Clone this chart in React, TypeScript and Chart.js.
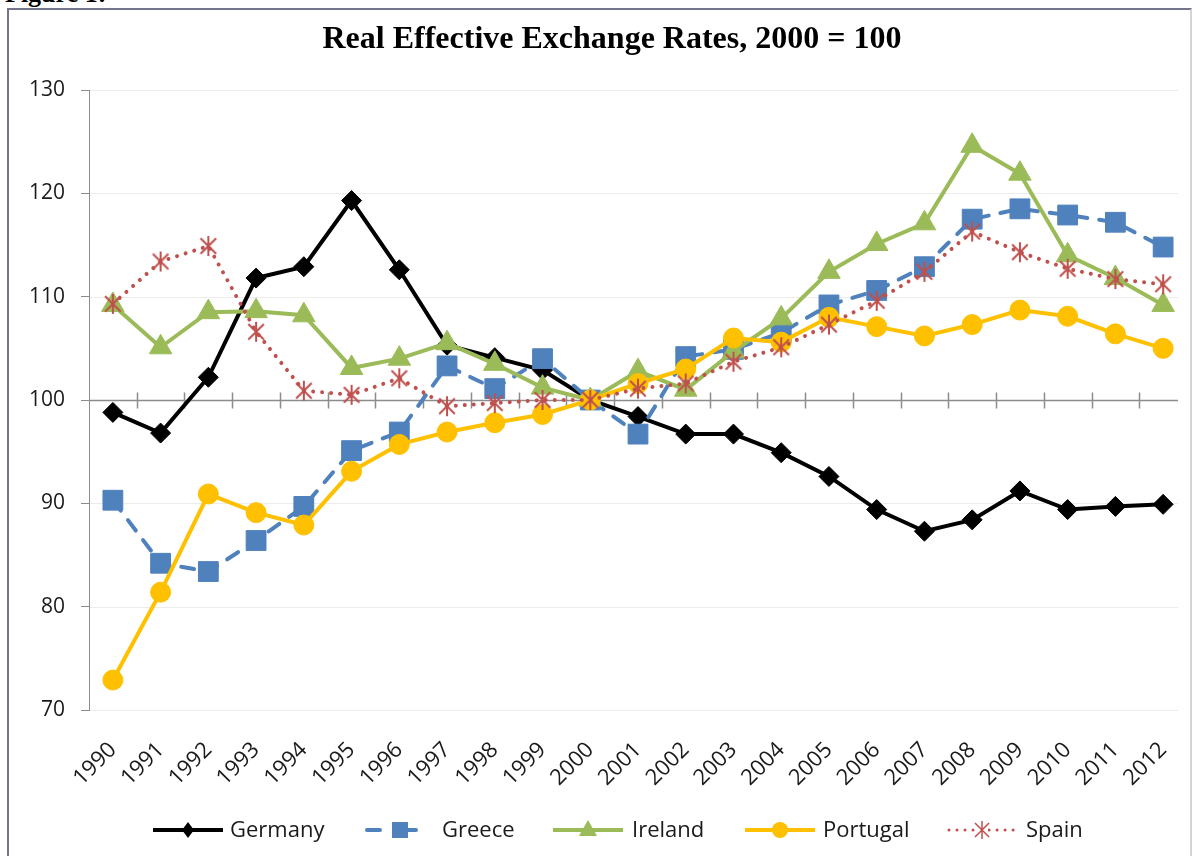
import React, { useEffect, useRef } from 'react';
import { Chart, registerables } from 'chart.js';

Chart.register(...registerables);

const TITLE = 'Real Effective Exchange Rates, 2000 = 100';
const years = ['1990','1991','1992','1993','1994','1995','1996','1997','1998','1999','2000','2001','2002','2003','2004','2005','2006','2007','2008','2009','2010','2011','2012'];
const germany = [98.8, 96.8, 102.2, 111.8, 112.9, 119.3, 112.6, 105.3, 104.1, 102.9, 100, 98.4, 96.7, 96.7, 94.9, 92.6, 89.4, 87.3, 88.4, 91.2, 89.4, 89.7, 89.9];
const greece = [90.3, 84.2, 83.4, 86.4, 89.7, 95.1, 96.9, 103.3, 101.1, 104.0, 100, 96.7, 104.2, 104.9, 106.5, 109.2, 110.6, 112.9, 117.5, 118.5, 117.9, 117.2, 114.8];
const ireland = [109.2, 105.1, 108.5, 108.6, 108.2, 103.1, 104.0, 105.5, 103.5, 101.2, 100, 102.8, 101.0, 104.7, 107.9, 112.4, 115.1, 117.1, 124.6, 121.9, 114.0, 111.8, 109.2];
const portugal = [72.9, 81.4, 90.9, 89.1, 87.9, 93.1, 95.7, 96.9, 97.8, 98.6, 100, 101.6, 103.0, 106.0, 105.6, 108.0, 107.1, 106.2, 107.3, 108.7, 108.1, 106.4, 105.0];
const spain = [109.3, 113.4, 114.9, 106.6, 100.9, 100.5, 102.1, 99.4, 99.7, 100.0, 100, 101.1, 101.6, 103.7, 105.1, 107.3, 109.6, 112.4, 116.3, 114.3, 112.7, 111.7, 111.2];
const seriesNames = ['Germany', 'Greece', 'Ireland', 'Portugal', 'Spain'];
const Y_MIN = 70;
const Y_MAX = 130;
const Y_STEP = 10;
const BASE = 100;

const C_GER = '#000000';
const C_GRE = '#4F81BD';
const C_IRE = '#9BBB59';
const C_POR = '#FFC000';
const C_SPA = '#C0504D';

const AX_FONT = 'Open Sans';
const GRID_INSET_RIGHT = 9;

function drawStar(g: CanvasRenderingContext2D, cx: number, cy: number, r: number, color: string, lw: number) {
  g.save();
  g.strokeStyle = color;
  g.lineWidth = lw;
  g.lineCap = 'butt';
  g.beginPath();
  g.moveTo(cx, cy - r);
  g.lineTo(cx, cy + r);
  const d = r * 0.78;
  g.moveTo(cx - d, cy - d);
  g.lineTo(cx + d, cy + d);
  g.moveTo(cx + d, cy - d);
  g.lineTo(cx - d, cy + d);
  g.stroke();
  g.restore();
}

function makeStarCanvas(size: number, color: string, lw: number) {
  const c = document.createElement('canvas');
  c.width = size;
  c.height = size;
  const g = c.getContext('2d')!;
  drawStar(g, size / 2, size / 2, size / 2 - 1, color, lw);
  return c;
}

const titlePlugin = {
  id: 'customTitle',
  afterDraw(chart: any) {
    const ctx = chart.ctx;
    ctx.save();
    ctx.fillStyle = '#000';
    ctx.font = 'bold 32px "Liberation Serif"';
    ctx.textAlign = 'center';
    ctx.textBaseline = 'middle';
    ctx.fillText(TITLE, 612, 40);
    ctx.restore();
  },
};

const baseAxisPlugin = {
  id: 'baseAxis',
  beforeDatasetsDraw(chart: any) {
    const ctx = chart.ctx;
    const xs = chart.scales.x;
    const ys = chart.scales.y;
    const { left, right } = chart.chartArea;
    const gridRight = right - GRID_INSET_RIGHT;
    ctx.save();
    // horizontal gridlines
    ctx.strokeStyle = '#ececec';
    ctx.lineWidth = 1;
    ctx.beginPath();
    for (let v = Y_MIN; v <= Y_MAX; v += Y_STEP) {
      if (v === BASE) continue;
      const gy = Math.round(ys.getPixelForValue(v)) + 0.5;
      ctx.moveTo(left + 1, gy);
      ctx.lineTo(gridRight, gy);
    }
    ctx.stroke();
    // category axis crossing at the base value
    const y = Math.round(ys.getPixelForValue(BASE)) + 0.5;
    ctx.strokeStyle = '#8c8c8c';
    ctx.lineWidth = 1.5;
    ctx.beginPath();
    ctx.moveTo(left, y);
    ctx.lineTo(gridRight, y);
    for (let i = 1; i < years.length; i++) {
      const x = Math.round((xs.getPixelForValue(i - 1) + xs.getPixelForValue(i)) / 2) + 0.5;
      ctx.moveTo(x, y - 8);
      ctx.lineTo(x, y + 8);
    }
    ctx.stroke();
    ctx.restore();
  },
};

const legendPlugin = {
  id: 'customLegend',
  afterDraw(chart: any) {
    const ctx = chart.ctx;
    const y = 830;
    const starts = [153, 350, 553, 745, 947];
    const textOffsets = [77, 92, 79, 78, 79];
    ctx.save();
    ctx.font = `22px "${AX_FONT}"`;
    ctx.textBaseline = 'middle';
    ctx.textAlign = 'left';
    seriesNames.forEach((name, i) => {
      const s = starts[i];
      const m = s + 35;
      ctx.save();
      if (i === 0) {
        ctx.strokeStyle = C_GER; ctx.lineWidth = 4;
        ctx.beginPath(); ctx.moveTo(s, y); ctx.lineTo(s + 70, y); ctx.stroke();
        ctx.fillStyle = C_GER;
        ctx.beginPath(); ctx.moveTo(m, y - 8); ctx.lineTo(m + 6, y); ctx.lineTo(m, y + 8); ctx.lineTo(m - 6, y); ctx.closePath(); ctx.fill();
      } else if (i === 1) {
        ctx.strokeStyle = C_GRE; ctx.lineWidth = 4; ctx.lineCap = 'round';
        ctx.beginPath(); ctx.moveTo(s + 17, y); ctx.lineTo(s + 30, y); ctx.moveTo(s + 58, y); ctx.lineTo(s + 66, y); ctx.stroke();
        ctx.fillStyle = C_GRE;
        ctx.fillRect(s + 42, y - 8, 16, 16);
      } else if (i === 2) {
        ctx.strokeStyle = C_IRE; ctx.lineWidth = 4;
        ctx.beginPath(); ctx.moveTo(s, y); ctx.lineTo(s + 70, y); ctx.stroke();
        ctx.fillStyle = C_IRE;
        ctx.beginPath(); ctx.moveTo(m, y - 10); ctx.lineTo(m + 9, y + 6); ctx.lineTo(m - 9, y + 6); ctx.closePath(); ctx.fill();
      } else if (i === 3) {
        ctx.strokeStyle = C_POR; ctx.lineWidth = 4;
        ctx.beginPath(); ctx.moveTo(s, y); ctx.lineTo(s + 70, y); ctx.stroke();
        ctx.fillStyle = C_POR;
        ctx.beginPath(); ctx.arc(m, y, 8, 0, Math.PI * 2); ctx.fill();
      } else {
        ctx.strokeStyle = C_SPA; ctx.lineWidth = 3; ctx.lineCap = 'round';
        ctx.setLineDash([0.01, 8]);
        ctx.beginPath(); ctx.moveTo(s + 2, y); ctx.lineTo(s + 70, y); ctx.stroke();
        ctx.setLineDash([]);
        ctx.fillStyle = '#fff';
        ctx.fillRect(m - 6, y - 9, 12, 18);
        drawStar(ctx, m, y, 9, C_SPA, 1.5);
      }
      ctx.restore();
      ctx.fillStyle = '#1a1a1a';
      ctx.fillText(name, s + textOffsets[i], y + 1);
    });
    ctx.restore();
  },
};

export default function App() {
  const ref = useRef<HTMLCanvasElement | null>(null);
  useEffect(() => {
    if (!ref.current) return;
    const star = makeStarCanvas(22, C_SPA, 2);
    const chart = new Chart(ref.current, {
      type: 'line',
      data: {
        labels: years,
        datasets: [
          { label: seriesNames[0], data: germany, borderColor: C_GER, backgroundColor: C_GER, borderWidth: 4, pointStyle: 'rectRot', pointRadius: 10, pointBorderWidth: 1, pointBackgroundColor: C_GER, pointBorderColor: C_GER, tension: 0, order: 5 },
          { label: seriesNames[1], data: greece, borderColor: C_GRE, backgroundColor: C_GRE, borderWidth: 4, borderDash: [13, 12], borderCapStyle: 'round', pointStyle: 'rect', pointRadius: 14, pointBorderWidth: 1, pointBackgroundColor: C_GRE, pointBorderColor: C_GRE, tension: 0, order: 4 },
          { label: seriesNames[2], data: ireland, borderColor: C_IRE, backgroundColor: C_IRE, borderWidth: 4, pointStyle: 'triangle', pointRadius: 13, pointBorderWidth: 1, pointBackgroundColor: C_IRE, pointBorderColor: C_IRE, tension: 0, order: 3 },
          { label: seriesNames[3], data: portugal, borderColor: C_POR, backgroundColor: C_POR, borderWidth: 4, pointStyle: 'circle', pointRadius: 10, pointBorderWidth: 1, pointBackgroundColor: C_POR, pointBorderColor: C_POR, tension: 0, order: 2 },
          { label: seriesNames[4], data: spain, borderColor: C_SPA, backgroundColor: C_SPA, borderWidth: 4, borderDash: [0.01, 9], borderCapStyle: 'round', pointStyle: star as any, pointRadius: 11, tension: 0, order: 1 },
        ],
      },
      options: {
        responsive: false,
        animation: false,
        layout: { autoPadding: false, padding: { top: 90, left: 0, right: 5, bottom: 0 } },
        plugins: {
          legend: { display: false },
          title: { display: false },
          tooltip: { enabled: false },
        },
        scales: {
          x: {
            type: 'category',
            offset: true,
            grid: { display: false, drawTicks: false },
            border: { display: false },
            ticks: { autoSkip: false, minRotation: 45, maxRotation: 45, padding: 27, color: '#1a1a1a', font: { family: AX_FONT, size: 22 } },
            afterFit: (s: any) => { s.height = 146; s.paddingLeft = 0; s.paddingRight = 0; },
          },
          y: {
            min: Y_MIN,
            max: Y_MAX,
            ticks: { stepSize: Y_STEP, padding: 16, color: '#1a1a1a', font: { family: AX_FONT, size: 21 } },
            grid: { drawOnChartArea: false, tickColor: '#8c8c8c', tickLength: 8, lineWidth: 1 },
            border: { color: '#8c8c8c', width: 1 },
            afterFit: (s: any) => { s.width = 89; s.paddingTop = 0; s.paddingBottom = 0; },
          },
        },
      } as any,
      plugins: [baseAxisPlugin, titlePlugin, legendPlugin],
    });
    return () => chart.destroy();
  }, []);

  return (
    <div style={{ position: 'fixed', left: 0, top: 0, width: 1192, height: 856, overflow: 'hidden', background: '#fff' }}>
      <div style={{ position: 'absolute', left: 5, top: -19, font: 'bold 26px "Liberation Serif"', lineHeight: '26px', color: '#000', whiteSpace: 'nowrap' }}>Figure 1:</div>
      <div style={{ position: 'absolute', left: 7, top: 8, width: 1185, height: 900, boxSizing: 'border-box', borderTop: '2px solid #74748c', borderLeft: '2px solid #74748c', borderRight: '2px solid #d4d4d4' }} />
      <canvas ref={ref} width={1192} height={856} style={{ position: 'absolute', left: 0, top: 0 }} />
    </div>
  );
}
